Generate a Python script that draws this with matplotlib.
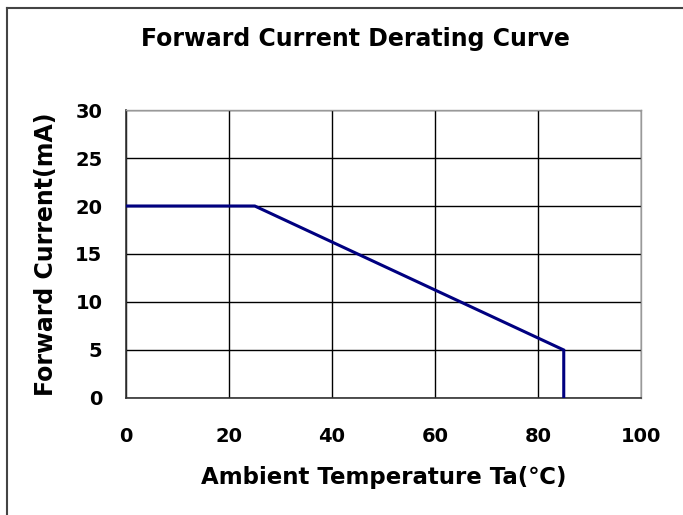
import matplotlib
matplotlib.use("Agg")
import matplotlib.pyplot as plt
from matplotlib.lines import Line2D

plt.rcParams['font.family'] = ['DejaVu Sans']

temp = [0, 25, 85, 85]
current = [20, 20, 5, 0]
xticks = [0, 20, 40, 60, 80, 100]
yticks = [0, 5, 10, 15, 20, 25, 30]

fig = plt.figure(figsize=(6.83, 5.15), dpi=100)
ax = fig.add_axes([0.1845, 0.2272, 0.7540, 0.5592])

ax.plot(temp, current, color='#000080', lw=2.2, solid_joinstyle='miter', zorder=3)
ax.set_xlim(0, 100)
ax.set_ylim(0, 30)
ax.set_xticks(xticks)
ax.set_yticks(yticks)
ax.grid(True, color='black', lw=1.0)
ax.tick_params(length=0, labelsize=14)
ax.tick_params(axis='y', pad=17)
ax.tick_params(axis='x', pad=21)
for lab in ax.get_xticklabels() + ax.get_yticklabels():
    lab.set_fontweight('bold')
for s in ['left', 'bottom']:
    ax.spines[s].set_color('#333333')
    ax.spines[s].set_linewidth(1.2)
for s in ['top', 'right']:
    ax.spines[s].set_color('#999999')
    ax.spines[s].set_linewidth(1.0)

ax.set_xlabel('Ambient Temperature Ta(℃)', fontsize=16.5, fontweight='bold', labelpad=14)
ax.set_ylabel('Forward Current(mA)', fontsize=17, fontweight='bold', labelpad=12)
fig.text(0.521, 1 - 46/515, 'Forward Current Derating Curve', ha='center', va='baseline',
         fontsize=17, fontweight='bold')

fig.add_artist(Line2D([7/683, 7/683], [0, 1 - 8/515], transform=fig.transFigure, color='#444444', lw=1.5))
fig.add_artist(Line2D([7/683, 1], [1 - 8/515, 1 - 8/515], transform=fig.transFigure, color='#444444', lw=1.5))

fig.savefig('out.png', dpi=100)
